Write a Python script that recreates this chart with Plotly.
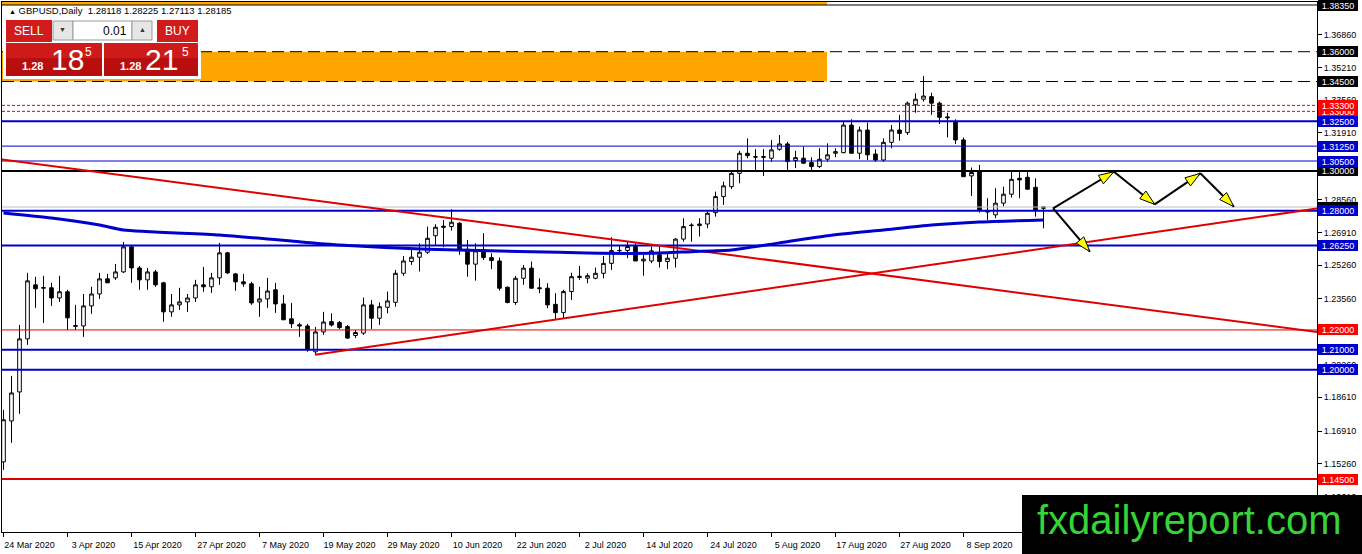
import math
import pandas as pd
import plotly.graph_objects as go

# ---------------- data ----------------
dates = pd.bdate_range("2020-03-24", periods=131)

opens = [1.1536, 1.1742, 1.1888, 1.2155, 1.2427, 1.2410, 1.2412, 1.2361, 1.2392, 1.2218,
         1.2220, 1.2321, 1.2381, 1.2457, 1.2462, 1.2492, 1.2618, 1.2512, 1.2452, 1.2492,
         1.2437, 1.2291, 1.2326, 1.2341, 1.2361, 1.2427, 1.2417, 1.2462, 1.2588, 1.2482,
         1.2442, 1.2432, 1.2341, 1.2356, 1.2402, 1.2331, 1.2256, 1.2226, 1.2220, 1.2090,
         1.2190, 1.2242, 1.2237, 1.2217, 1.2172, 1.2184, 1.2326, 1.2259, 1.2314, 1.2339,
         1.2485, 1.2544, 1.2566, 1.2591, 1.2674, 1.2722, 1.2720, 1.2737, 1.2606, 1.2531,
         1.2603, 1.2564, 1.2547, 1.2415, 1.2338, 1.2460, 1.2511, 1.2412, 1.2410, 1.2329,
         1.2287, 1.2393, 1.2470, 1.2460, 1.2460, 1.2485, 1.2535, 1.2599, 1.2600, 1.2620,
         1.2547, 1.2547, 1.2578, 1.2544, 1.2561, 1.2657, 1.2725, 1.2725, 1.2733, 1.2790,
         1.2871, 1.2921, 1.2988, 1.3089, 1.3072, 1.3068, 1.3064, 1.3109, 1.3136, 1.3052,
         1.3064, 1.3042, 1.3022, 1.3059, 1.3089, 1.3092, 1.3231, 1.3089, 1.3206, 1.3085,
         1.3055, 1.3144, 1.3206, 1.3193, 1.3333, 1.3361, 1.3374, 1.3341, 1.3272, 1.3248,
         1.3156, 1.2975, 1.2997, 1.2801, 1.2779, 1.2838, 1.2883, 1.2963, 1.2968, 1.2918,
         1.28118]
highs = [1.1798, 1.1969, 1.2225, 1.2487, 1.2467, 1.2472, 1.2437, 1.2472, 1.2402, 1.2326,
         1.2381, 1.2417, 1.2487, 1.2482, 1.2532, 1.2643, 1.2628, 1.2522, 1.2512, 1.2502,
         1.2442, 1.2381, 1.2412, 1.2381, 1.2452, 1.2517, 1.2487, 1.2638, 1.2593, 1.2487,
         1.2482, 1.2442, 1.2417, 1.2462, 1.2437, 1.2376, 1.2336, 1.2236, 1.2231, 1.2215,
         1.2291, 1.2284, 1.2245, 1.2225, 1.2200, 1.2363, 1.2351, 1.2338, 1.2393, 1.2502,
         1.2572, 1.2611, 1.2636, 1.2720, 1.2732, 1.2753, 1.2807, 1.2742, 1.2653, 1.2636,
         1.2687, 1.2586, 1.2564, 1.2418, 1.2472, 1.2527, 1.2544, 1.2460, 1.2435, 1.2385,
         1.2402, 1.2488, 1.2522, 1.2485, 1.2514, 1.2572, 1.2667, 1.2628, 1.2645, 1.2636,
         1.2578, 1.2619, 1.2619, 1.2586, 1.2662, 1.2762, 1.2737, 1.2762, 1.2795, 1.2896,
         1.2946, 1.3005, 1.3101, 1.3164, 1.3110, 1.3110, 1.3156, 1.3181, 1.3147, 1.3101,
         1.3122, 1.3069, 1.3114, 1.3139, 1.3114, 1.3248, 1.3260, 1.3223, 1.3243, 1.3109,
         1.3164, 1.3231, 1.3282, 1.3349, 1.3391, 1.3478, 1.3394, 1.3349, 1.3293, 1.3260,
         1.3168, 1.3017, 1.3030, 1.2863, 1.2913, 1.2921, 1.2997, 1.2997, 1.2997, 1.2963,
         1.28225]
lows = [1.1496, 1.1632, 1.1778, 1.2125, 1.2311, 1.2235, 1.2321, 1.2341, 1.2200, 1.2200,
        1.2165, 1.2281, 1.2356, 1.2437, 1.2452, 1.2487, 1.2437, 1.2402, 1.2402, 1.2417,
        1.2241, 1.2266, 1.2301, 1.2291, 1.2341, 1.2392, 1.2386, 1.2427, 1.2482, 1.2397,
        1.2417, 1.2326, 1.2266, 1.2311, 1.2286, 1.2251, 1.2210, 1.2165, 1.2090, 1.2075,
        1.2175, 1.2217, 1.2204, 1.2155, 1.2159, 1.2175, 1.2204, 1.2225, 1.2284, 1.2317,
        1.2472, 1.2527, 1.2494, 1.2583, 1.2628, 1.2616, 1.2700, 1.2578, 1.2468, 1.2448,
        1.2552, 1.2506, 1.2398, 1.2334, 1.2326, 1.2427, 1.2410, 1.2385, 1.2309, 1.2254,
        1.2259, 1.2351, 1.2452, 1.2435, 1.2455, 1.2460, 1.2502, 1.2589, 1.2561, 1.2547,
        1.2473, 1.2536, 1.2514, 1.2506, 1.2514, 1.2644, 1.2644, 1.2670, 1.2712, 1.2770,
        1.2829, 1.2909, 1.2938, 1.3064, 1.3005, 1.2975, 1.3047, 1.3102, 1.3005, 1.3014,
        1.3035, 1.3005, 1.3014, 1.3047, 1.3069, 1.3089, 1.3089, 1.3059, 1.3055, 1.3047,
        1.3047, 1.3114, 1.3152, 1.3181, 1.3293, 1.3349, 1.3282, 1.3236, 1.3169, 1.3136,
        1.2971, 1.2874, 1.2790, 1.2754, 1.2762, 1.2821, 1.2866, 1.2863, 1.2905, 1.2770,
        1.27113]
closes = [1.1748, 1.1883, 1.2155, 1.2447, 1.2407, 1.2413, 1.2361, 1.2392, 1.2261, 1.2222,
          1.2321, 1.2381, 1.2457, 1.2437, 1.2492, 1.2618, 1.2512, 1.2452, 1.2492, 1.2427,
          1.2291, 1.2326, 1.2341, 1.2361, 1.2427, 1.2417, 1.2462, 1.2588, 1.2487, 1.2442,
          1.2432, 1.2336, 1.2356, 1.2396, 1.2331, 1.2251, 1.2231, 1.2220, 1.2100, 1.2190,
          1.2240, 1.2225, 1.2212, 1.2159, 1.2187, 1.2326, 1.2259, 1.2317, 1.2346, 1.2485,
          1.2547, 1.2566, 1.2591, 1.2661, 1.2717, 1.2717, 1.2742, 1.2603, 1.2531, 1.2598,
          1.2564, 1.2549, 1.2410, 1.2338, 1.2460, 1.2511, 1.2410, 1.2408, 1.2326, 1.2287,
          1.2393, 1.2468, 1.2465, 1.2473, 1.2485, 1.2535, 1.2599, 1.2600, 1.2620, 1.2547,
          1.2556, 1.2598, 1.2544, 1.2561, 1.2657, 1.2720, 1.2727, 1.2733, 1.2787, 1.2871,
          1.2925, 1.2988, 1.3089, 1.3077, 1.3070, 1.3072, 1.3106, 1.3136, 1.3047, 1.3067,
          1.3039, 1.3022, 1.3059, 1.3081, 1.3097, 1.3231, 1.3089, 1.3206, 1.3081, 1.3055,
          1.3144, 1.3206, 1.3189, 1.3341, 1.3361, 1.3377, 1.3341, 1.3270, 1.3268, 1.3156,
          1.2971, 1.2992, 1.2804, 1.2793, 1.2838, 1.2883, 1.2958, 1.2955, 1.2908, 1.2800,
          1.28185]

# moving average read at a few bars
ma_idx = [0, 6, 12, 15, 27, 37, 42, 53, 66, 73, 81, 86, 91, 97, 103, 110, 116, 122, 130]
ma_val = [1.2788, 1.2763, 1.2728, 1.2703, 1.2678, 1.2644, 1.2627, 1.2606, 1.2594, 1.2587,
          1.2586, 1.2594, 1.2602, 1.2638, 1.2674, 1.2703, 1.2728, 1.2743, 1.2753]

# horizontal levels (draw order matters for the price boxes)
levels = [1.3835, 1.3600, 1.3450, 1.3300, 1.3330, 1.3250, 1.3125, 1.3000, 1.3050,
          1.28185, 1.2800, 1.2625, 1.2200, 1.2100, 1.2000, 1.1450]
level_kind = ["k", "kd", "kd", "rd", "rd", "B", "b", "K", "b",
              "bid", "B", "B", "r", "B", "B", "R"]

# trend lines (bar index, price)
trend_x0 = [-0.1875, 38.94]
trend_y0 = [1.3058, 1.2075]
trend_x1 = [164.1875, 164.1875]
trend_y1 = [1.2190, 1.2811]

# forecast arrows (bar index, price)
arrow_x0 = [131.2, 138.8, 143.9, 149.6, 131.2]
arrow_y0 = [1.2812, 1.2996, 1.2832, 1.2988, 1.2812]
arrow_x1 = [138.8, 143.9, 149.6, 153.8, 135.8]
arrow_y1 = [1.2996, 1.2832, 1.2988, 1.2820, 1.2594]

# orange zones
zone_x1 = [102.94, 102.94]
zone_lo = [1.3835, 1.3450]
zone_hi = [1.3950, 1.3600]

ytick_vals = [1.3686, 1.3521, 1.3356, 1.3191, 1.3026, 1.2856, 1.2691, 1.2526, 1.2356,
              1.2191, 1.2026, 1.1861, 1.1691, 1.1526, 1.1361]

# ---------------- geometry ----------------
W, H = 1362, 554
L, T, R, B = 2, 2, 45, 22
PW, PH = W - L - R, H - T - B
XR = [-0.1875, 164.1875]
YR = [1.11833, 1.38501]
ppx = PW / (XR[1] - XR[0])
ppy = PH / (YR[1] - YR[0])

def px2x(px):
    return (px - L) / PW

def py2y(py):
    return (T + PH - py) / PH

FONT = "Liberation Sans"
BLUE = "#0000cd"
RED = "#ff0000"

x_idx = list(range(len(opens)))
tick_idx = list(range(0, 121, 8))
tick_text = [f"{dates[i].day} {dates[i].strftime('%b')} {dates[i].year}" for i in tick_idx]

fig = go.Figure()

fig.add_trace(go.Candlestick(
    x=x_idx, open=opens, high=highs, low=lows, close=closes,
    increasing=dict(fillcolor="white", line=dict(color="black", width=1)),
    decreasing=dict(fillcolor="black", line=dict(color="black", width=1)),
    whiskerwidth=0, showlegend=False, hoverinfo="skip"))

styles = {
    "k": ("black", 1, "solid"), "kd": ("black", 1, "12px,6px"),
    "rd": ("#e00000", 1, "3px,2px"), "B": (BLUE, 2, "solid"), "b": (BLUE, 1, "solid"),
    "K": ("black", 2, "solid"), "bid": ("#c0c0c0", 1, "solid"),
    "r": ("#e00000", 1, "solid"), "R": ("#e00000", 2, "solid"),
}
label_bg = {"k": "black", "kd": "black", "rd": RED, "B": BLUE, "b": BLUE,
            "K": "black", "bid": "black", "r": RED, "R": RED}

for v, k in zip(levels, level_kind):
    c, w, d = styles[k]
    fig.add_trace(go.Scatter(x=XR, y=[v, v], mode="lines",
                             line=dict(color=c, width=w, dash=d),
                             showlegend=False, hoverinfo="skip"))

for i in range(len(trend_x0)):
    fig.add_trace(go.Scatter(x=[trend_x0[i], trend_x1[i]], y=[trend_y0[i], trend_y1[i]],
                             mode="lines", line=dict(color="#e00000", width=2),
                             showlegend=False, hoverinfo="skip"))

fig.add_trace(go.Scatter(x=ma_idx, y=ma_val, mode="lines",
                         line=dict(color=BLUE, width=3, shape="spline", smoothing=0.6),
                         showlegend=False, hoverinfo="skip"))

ax, ay = [], []
angles = []
for i in range(len(arrow_x0)):
    ax += [arrow_x0[i], arrow_x1[i], None]
    ay += [arrow_y0[i], arrow_y1[i], None]
    dxp = (arrow_x1[i] - arrow_x0[i]) * ppx
    dyp = (arrow_y1[i] - arrow_y0[i]) * ppy
    angles.append(math.degrees(math.atan2(dxp, dyp)))
fig.add_trace(go.Scatter(x=ax, y=ay, mode="lines", line=dict(color="black", width=2),
                         showlegend=False, hoverinfo="skip"))
fig.add_trace(go.Scatter(x=arrow_x1, y=arrow_y1, mode="markers",
                         marker=dict(symbol="arrow", size=16, angle=angles, color="#ffff00",
                                     line=dict(color="black", width=1)),
                         showlegend=False, hoverinfo="skip"))

shapes = []
for i in range(len(zone_lo)):
    shapes.append(dict(type="rect", xref="x", yref="y", x0=XR[0], x1=zone_x1[i],
                       y0=zone_lo[i], y1=zone_hi[i], fillcolor="#ffa500",
                       line=dict(width=0), layer="below"))

def prect(x0, y0, x1, y1, fill, line=None):
    shapes.append(dict(type="rect", xref="paper", yref="paper",
                       x0=px2x(x0), x1=px2x(x1), y0=py2y(y1), y1=py2y(y0),
                       fillcolor=fill,
                       line=dict(color=line or fill, width=1 if line else 0),
                       layer="above"))

# trading panel
prect(3, 17, 201, 79, "white")
prect(6, 20, 52, 42, "#d21c1c")
prect(157, 20, 198, 42, "#d21c1c")
prect(53, 21, 73, 40, "#e6e6e6", "#9a9a9a")
prect(73, 21, 132, 40, "white", "#9a9a9a")
prect(132, 21, 152, 40, "#e6e6e6", "#9a9a9a")
prect(6, 43, 102, 76, "#b80e0e")
prect(104, 43, 198, 76, "#b80e0e")
prect(6, 43, 102, 58, "#cf1a1a")
prect(104, 43, 198, 58, "#cf1a1a")
# logo box
prect(1022, 495, 1362, 554, "black")

ann = []

def ptext(x, y, text, size, color, anchor="center", bold=False):
    ann.append(dict(xref="paper", yref="paper", x=px2x(x), y=py2y(y), text=(f"<b>{text}</b>" if bold else text),
                    showarrow=False, xanchor=anchor, yanchor="middle",
                    font=dict(family=FONT, size=size, color=color)))

ptext(7, 11, "<span style='font-size:7px'>▲</span> GBPUSD,Daily  1.28118 1.28225 1.27113 1.28185",
      9.5, "black", anchor="left")
ptext(29, 31, "SELL", 12, "white")
ptext(177, 31, "BUY", 12, "white")
ptext(129, 31, "0.01", 12, "black", anchor="right")
ptext(63, 30, "▼", 7, "#333333")
ptext(142, 30, "▲", 7, "#333333")
ptext(32, 66, "1.28", 11, "white", bold=True)
ptext(67, 60, "18", 30, "white")
ptext(88.5, 52, "5", 12, "white")
ptext(130, 66, "1.28", 11, "white", bold=True)
ptext(161, 60, "21", 30, "white")
ptext(185, 52, "5", 12, "white")
ptext(1189, 520, "fxdailyreport.com", 40, "#36d436")

for v, k in zip(levels, level_kind):
    ann.append(dict(xref="paper", yref="y", x=1, y=v, xanchor="left", xshift=1,
                    text=f"{v:.5f}", showarrow=False, bgcolor=label_bg[k],
                    width=40, height=11, borderpad=0, borderwidth=0,
                    font=dict(family=FONT, size=9, color="white")))

fig.update_layout(
    width=W, height=H,
    margin=dict(l=L, r=R, t=T, b=B, autoexpand=False),
    paper_bgcolor="white", plot_bgcolor="white",
    font=dict(family=FONT, size=9, color="black"),
    boxgap=0.35,
    shapes=shapes, annotations=ann, showlegend=False,
    xaxis=dict(range=XR, tickvals=tick_idx, ticktext=tick_text, ticks="outside", ticklen=4,
               tickcolor="black", showgrid=False, zeroline=False, showline=True, mirror=True,
               linecolor="black", linewidth=1, ticklabelshift=26,
               tickfont=dict(family=FONT, size=9), rangeslider=dict(visible=False),
               fixedrange=True),
    yaxis=dict(range=YR, side="right", tickvals=ytick_vals,
               ticktext=[f"{v:.5f}" for v in ytick_vals], ticks="outside", ticklen=4,
               tickcolor="black", showgrid=False, zeroline=False, showline=True, mirror=True,
               linecolor="black", linewidth=1, tickfont=dict(family=FONT, size=9),
               fixedrange=True),
)

fig.write_html("out.html", config={"displayModeBar": False},
               post_script="document.body.style.margin='0px';document.body.style.overflow='hidden';")
